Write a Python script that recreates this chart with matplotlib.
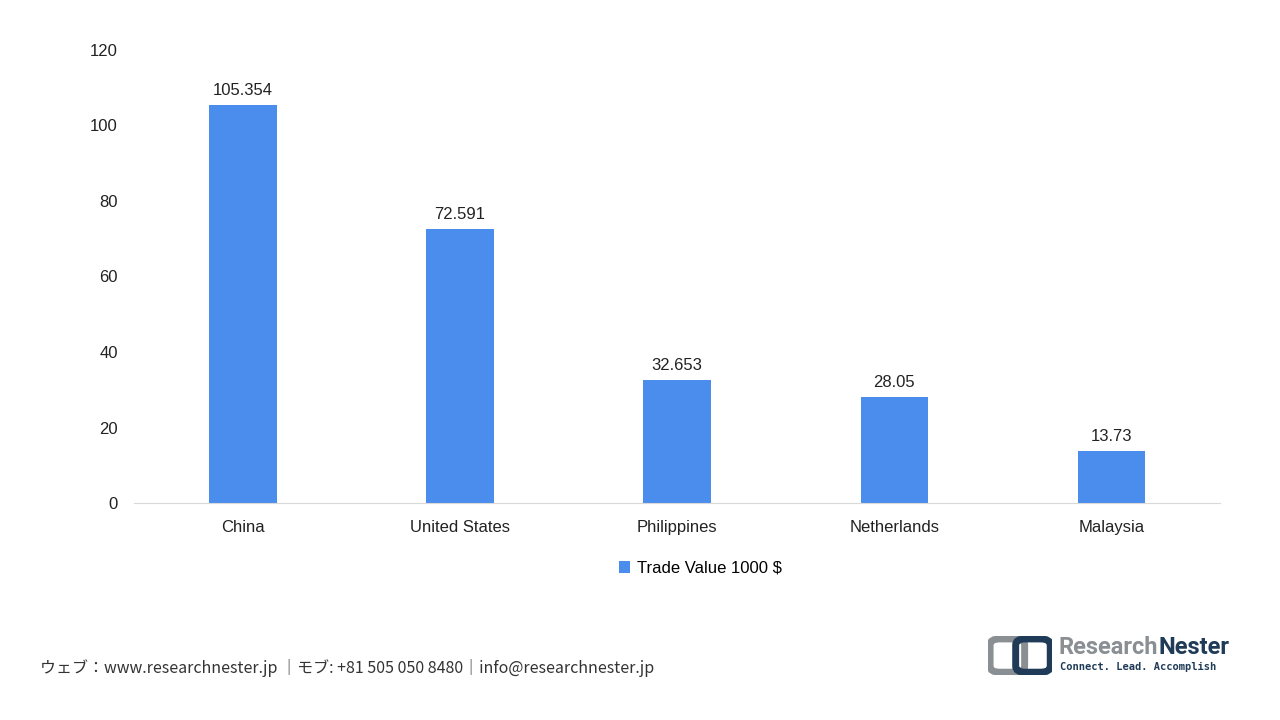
import matplotlib
matplotlib.use('Agg')
import matplotlib.pyplot as plt
from matplotlib.patches import FancyBboxPatch

plt.rcParams['font.family'] = ['Liberation Sans', 'DejaVu Sans']

# データ
countries = ['China', 'United States', 'Philippines', 'Netherlands', 'Malaysia']
values = [105.354, 72.591, 32.653, 28.05, 13.73]
labels = ['105.354', '72.591', '32.653', '28.05', '13.73']
series_name = 'Trade Value 1000 $'

fig = plt.figure(figsize=(12.8, 7.2), dpi=100)
ax = fig.add_axes([0.105, 0.301, 0.848, 0.630])

bars = ax.bar(countries, values, width=0.31, color='#4a8ded', label=series_name)
for b, t in zip(bars, labels):
    ax.annotate(t, (b.get_x() + b.get_width() / 2, b.get_height()),
                xytext=(0, 5), textcoords='offset points',
                ha='center', va='bottom', fontsize=12, color='#222222')

ax.set_ylim(0, 120)
ax.set_yticks(range(0, 121, 20))
ax.set_xlim(-0.5, 4.5)
for s in ['top', 'right', 'left']:
    ax.spines[s].set_visible(False)
ax.spines['bottom'].set_color('#d9d9d9')
ax.tick_params(axis='both', length=0, labelsize=12, colors='#222222')
ax.tick_params(axis='x', pad=12)
ax.tick_params(axis='y', pad=12)

fig.legend(handles=[bars], labels=[series_name], loc='center',
           bbox_to_anchor=(0.547, 0.211), frameon=False, fontsize=12,
           handlelength=0.7, handleheight=0.7, handletextpad=0.4)

# フッター
fig.text(0.031, 0.072, 'ウェブ：www.researchnester.jp ｜モブ: +81 505 050 8480｜info@researchnester.jp',
         fontsize=11.5, color='#333333', va='center',
         family=['Noto Sans CJK JP', 'DejaVu Sans'])

# ロゴ
logo = fig.add_axes([0.772, 0.062, 0.05, 0.055])
logo.axis('off')
logo.set_xlim(0, 1)
logo.set_ylim(0, 1)
logo.add_patch(FancyBboxPatch((0.05, 0.1), 0.5, 0.8, boxstyle='round,pad=0.02,rounding_size=0.15',
                              fc='none', ec='#8a8f94', lw=5))
logo.add_patch(FancyBboxPatch((0.45, 0.1), 0.5, 0.8, boxstyle='round,pad=0.02,rounding_size=0.15',
                              fc='none', ec='#1f3b57', lw=5))
fig.text(0.827, 0.100, 'Research', fontsize=17, fontweight='bold', color='#8a8f94',
         va='center', family='Roboto', stretch='condensed')
fig.text(0.905, 0.100, 'Nester', fontsize=17, fontweight='bold', color='#1f3b57',
         va='center', family='Roboto')
fig.text(0.828, 0.073, 'Connect. Lead. Accomplish', fontsize=7.5, fontweight='bold',
         color='#1f3b57', va='center', family='DejaVu Sans Mono')

fig.savefig('out.png', dpi=100)
